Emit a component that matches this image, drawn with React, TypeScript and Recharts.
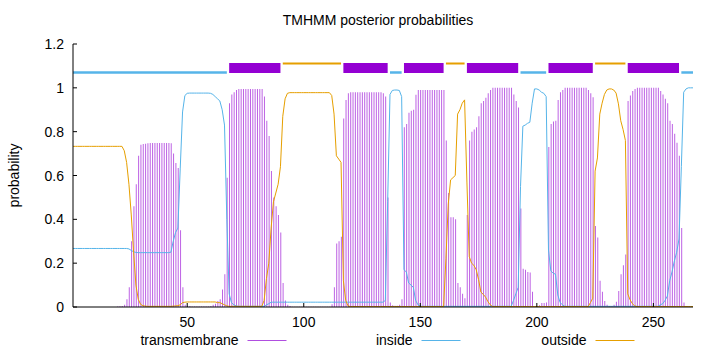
import React from "react";
import {
  ComposedChart,
  Bar,
  Line,
  XAxis,
  YAxis,
  ReferenceArea,
  ReferenceLine,
  Legend,
  Label,
} from "recharts";

const W = 720;
const H = 352;
const PLOT = { left: 73, right: 693, top: 44, bottom: 307 };
const FONT = "'Liberation Sans', Arial, sans-serif";

// posterior probability per residue (1..267)
const TM = [
  0, 0, 0, 0, 0, 0, 0, 0, 0, 0,
  0, 0, 0, 0, 0, 0, 0, 0, 0, 0.002,
  0.003, 0.005, 0.01, 0.035, 0.09, 0.3, 0.46, 0.56, 0.69, 0.74,
  0.744, 0.745, 0.747, 0.748, 0.748, 0.748, 0.748, 0.748, 0.748, 0.748,
  0.748, 0.748, 0.747, 0.7, 0.657, 0.634, 0.35, 0.09, 0.01, 0.005,
  0.005, 0.002, 0.002, 0.002, 0.002, 0.002, 0.002, 0.002, 0.002, 0.005,
  0.01, 0.015, 0.027, 0.035, 0.08, 0.15, 0.59, 0.93, 0.97, 0.98,
  0.99, 0.995, 0.995, 0.995, 0.995, 0.995, 0.995, 0.995, 0.995, 0.995,
  0.995, 0.995, 0.96, 0.85, 0.78, 0.62, 0.5, 0.46, 0.42, 0.34,
  0.11, 0.03, 0.01, 0.005, 0.001, 0.001, 0.001, 0.001, 0.001, 0.001,
  0.001, 0.001, 0.001, 0.001, 0.001, 0.001, 0.001, 0.001, 0.001, 0.001,
  0.001, 0.012, 0.09, 0.29, 0.3, 0.32, 0.86, 0.945, 0.975, 0.98,
  0.98, 0.98, 0.98, 0.98, 0.98, 0.98, 0.98, 0.98, 0.98, 0.98,
  0.98, 0.98, 0.98, 0.975, 0.96, 0.5, 0.02, 0.008, 0.006, 0.006,
  0.01, 0.035, 0.82, 0.835, 0.886, 0.896, 0.9, 0.968, 0.99, 0.99,
  0.99, 0.99, 0.99, 0.99, 0.99, 0.99, 0.99, 0.99, 0.99, 0.99,
  0.76, 0.52, 0.41, 0.41, 0.4, 0.11, 0.09, 0.06, 0.04, 0.42,
  0.76, 0.8, 0.81, 0.82, 0.87, 0.93, 0.94, 0.955, 0.975, 0.99,
  1, 1, 1, 1, 1, 1, 1, 1, 1, 0.97,
  0.94, 0.91, 0.45, 0.175, 0.17, 0.16, 0.157, 0.07, 0.005, 0.005,
  0.008, 0.018, 0.018, 0.02, 0.73, 0.835, 0.846, 0.85, 0.945, 0.98,
  0.99, 1, 1, 1, 1, 1, 1, 1, 1, 1,
  1, 0.99, 0.975, 0.957, 0.37, 0.317, 0.12, 0.07, 0.027, 0.01,
  0.005, 0.005, 0.01, 0.024, 0.073, 0.15, 0.19, 0.24, 0.94, 0.965,
  0.985, 0.995, 1, 1, 1, 1, 1, 1, 1, 1,
  1, 1, 0.985, 0.97, 0.95, 0.93, 0.85, 0.835, 0.79, 0.75,
  0.69, 0.36, 0.02, 0.005, 0.003, 0.002, 0,
];

const INSIDE = [
  0.267, 0.267, 0.267, 0.267, 0.267, 0.267, 0.267, 0.267, 0.267, 0.267,
  0.267, 0.267, 0.267, 0.267, 0.267, 0.267, 0.267, 0.267, 0.267, 0.267,
  0.267, 0.267, 0.267, 0.267, 0.265, 0.258, 0.252, 0.249, 0.248, 0.248,
  0.248, 0.248, 0.248, 0.248, 0.248, 0.248, 0.248, 0.248, 0.248, 0.248,
  0.248, 0.248, 0.25, 0.3, 0.34, 0.36, 0.63, 0.89, 0.965, 0.975,
  0.976, 0.976, 0.976, 0.976, 0.976, 0.976, 0.976, 0.976, 0.976, 0.975,
  0.97, 0.96, 0.95, 0.94, 0.9, 0.83, 0.4, 0.06, 0.02, 0.01,
  0.005, 0.003, 0.003, 0.003, 0.003, 0.003, 0.003, 0.003, 0.003, 0.003,
  0.003, 0.003, 0.003, 0.01, 0.015, 0.022, 0.022, 0.022, 0.022, 0.022,
  0.022, 0.022, 0.022, 0.022, 0.022, 0.022, 0.022, 0.022, 0.022, 0.022,
  0.022, 0.022, 0.022, 0.022, 0.022, 0.022, 0.022, 0.022, 0.022, 0.022,
  0.022, 0.022, 0.022, 0.022, 0.022, 0.022, 0.022, 0.022, 0.022, 0.022,
  0.022, 0.022, 0.022, 0.022, 0.022, 0.022, 0.022, 0.022, 0.022, 0.022,
  0.022, 0.022, 0.022, 0.022, 0.03, 0.48, 0.97, 0.988, 0.99, 0.99,
  0.988, 0.96, 0.17, 0.16, 0.11, 0.1, 0.09, 0.03, 0.01, 0.003,
  0.003, 0.003, 0.003, 0.003, 0.003, 0.003, 0.003, 0.003, 0.003, 0.003,
  0.003, 0.003, 0.003, 0.003, 0.003, 0.003, 0.003, 0.003, 0.003, 0.003,
  0.003, 0.003, 0.003, 0.003, 0.003, 0.003, 0.003, 0.003, 0.003, 0.003,
  0.003, 0.003, 0.003, 0.003, 0.003, 0.003, 0.003, 0.003, 0.003, 0.03,
  0.06, 0.09, 0.55, 0.825, 0.83, 0.838, 0.843, 0.93, 0.995, 0.995,
  0.99, 0.98, 0.975, 0.96, 0.26, 0.165, 0.154, 0.15, 0.055, 0.02,
  0.01, 0.003, 0.003, 0.003, 0.003, 0.003, 0.003, 0.003, 0.003, 0.003,
  0.003, 0.003, 0.003, 0.003, 0.003, 0.003, 0.003, 0.003, 0.003, 0.003,
  0.003, 0.003, 0.003, 0.003, 0.003, 0.003, 0.003, 0.003, 0.003, 0.003,
  0.003, 0.003, 0.003, 0.003, 0.003, 0.003, 0.003, 0.003, 0.003, 0.003,
  0.003, 0.003, 0.01, 0.015, 0.03, 0.05, 0.12, 0.16, 0.21, 0.25,
  0.31, 0.64, 0.98, 0.995, 1, 1, 1,
];

const OUTSIDE = [
  0.733, 0.733, 0.733, 0.733, 0.733, 0.733, 0.733, 0.733, 0.733, 0.733,
  0.733, 0.733, 0.733, 0.733, 0.733, 0.733, 0.733, 0.733, 0.733, 0.733,
  0.733, 0.733, 0.713, 0.66, 0.56, 0.42, 0.25, 0.1, 0.035, 0.012,
  0.006, 0.004, 0.003, 0.003, 0.003, 0.003, 0.003, 0.003, 0.003, 0.003,
  0.003, 0.003, 0.003, 0.004, 0.005, 0.006, 0.01, 0.02, 0.022, 0.023,
  0.023, 0.023, 0.023, 0.023, 0.023, 0.023, 0.023, 0.023, 0.023, 0.023,
  0.023, 0.023, 0.02, 0.02, 0.015, 0.01, 0.005, 0.003, 0.003, 0.003,
  0.003, 0.003, 0.003, 0.003, 0.003, 0.003, 0.003, 0.003, 0.003, 0.003,
  0.003, 0.003, 0.03, 0.13, 0.2, 0.36, 0.48, 0.52, 0.56, 0.64,
  0.87, 0.95, 0.975, 0.978, 0.978, 0.978, 0.978, 0.978, 0.978, 0.978,
  0.978, 0.978, 0.978, 0.978, 0.978, 0.978, 0.978, 0.978, 0.978, 0.978,
  0.978, 0.965, 0.88, 0.69, 0.675, 0.66, 0.12, 0.03, 0.005, 0.002,
  0.002, 0.002, 0.002, 0.002, 0.002, 0.002, 0.002, 0.002, 0.002, 0.002,
  0.002, 0.002, 0.002, 0.002, 0.002, 0.002, 0.002, 0.002, 0.002, 0.002,
  0.002, 0.002, 0.002, 0.002, 0.002, 0.002, 0.002, 0.002, 0.002, 0.002,
  0.002, 0.002, 0.002, 0.002, 0.002, 0.002, 0.002, 0.002, 0.002, 0.002,
  0.22, 0.47, 0.58, 0.59, 0.6, 0.88, 0.9, 0.93, 0.945, 0.57,
  0.23, 0.2, 0.19, 0.17, 0.125, 0.068, 0.058, 0.045, 0.025, 0.01,
  0.002, 0.002, 0.002, 0.002, 0.002, 0.002, 0.002, 0.002, 0.002, 0.002,
  0.002, 0.002, 0.002, 0.002, 0.002, 0.002, 0.002, 0.002, 0.002, 0.002,
  0.002, 0.002, 0.002, 0.002, 0.002, 0.002, 0.002, 0.002, 0.002, 0.002,
  0.002, 0.002, 0.002, 0.002, 0.002, 0.002, 0.002, 0.002, 0.002, 0.002,
  0.002, 0.002, 0.02, 0.04, 0.62, 0.68, 0.88, 0.93, 0.97, 0.99,
  0.995, 0.995, 0.99, 0.976, 0.927, 0.85, 0.81, 0.76, 0.06, 0.033,
  0.015, 0.005, 0.002, 0.002, 0.002, 0.002, 0.002, 0.002, 0.002, 0.002,
  0.002, 0.002, 0.002, 0.002, 0.002, 0.002, 0.002, 0.002, 0.002, 0.002,
  0.002, 0.002, 0.002, 0.002, 0.002, 0.002, 0.002,
];

// predicted topology (drawn above the curves)
const TOPOLOGY = [
  { type: "inside", start: 1, end: 67 },
  { type: "tm", start: 68, end: 90 },
  { type: "outside", start: 91, end: 116 },
  { type: "tm", start: 117, end: 136 },
  { type: "inside", start: 137, end: 142 },
  { type: "tm", start: 143, end: 160 },
  { type: "outside", start: 161, end: 169 },
  { type: "tm", start: 170, end: 192 },
  { type: "inside", start: 193, end: 204 },
  { type: "tm", start: 205, end: 224 },
  { type: "outside", start: 225, end: 238 },
  { type: "tm", start: 239, end: 261 },
  { type: "inside", start: 262, end: 267 },
];

const X_TICKS = [50, 100, 150, 200, 250];
const Y_TICKS = [0, 0.2, 0.4, 0.6, 0.8, 1, 1.2];

const SERIES = [
  { key: "tm", name: "transmembrane", color: "#b04ee0" },
  { key: "inside", name: "inside", color: "#56b4e9" },
  { key: "outside", name: "outside", color: "#e69f00" },
];
const COLOR: Record<string, string> = {
  tm: "#9400d3",
  inside: "#56b4e9",
  outside: "#e69f00",
};

const data = TM.map((tm, i) => ({
  pos: i + 1,
  tm,
  inside: INSIDE[i],
  outside: OUTSIDE[i],
}));

const txt = { fontFamily: FONT, fontSize: 14, fill: "#000" };
const midY = (PLOT.top + PLOT.bottom) / 2;

const BottomTick = ({ x, payload }: any) => (
  <g>
    <line x1={x} x2={x} y1={PLOT.bottom} y2={PLOT.bottom - 4} stroke="#000" />
    <text {...txt} x={x} y={PLOT.bottom + 20} textAnchor="middle">
      {payload.value}
    </text>
  </g>
);

const TopTick = ({ x }: any) => (
  <line x1={x} x2={x} y1={PLOT.top} y2={PLOT.top + 4} stroke="#000" />
);

const LeftTick = ({ y, payload }: any) => (
  <g>
    <line x1={PLOT.left} x2={PLOT.left + 4} y1={y} y2={y} stroke="#000" />
    <text {...txt} x={PLOT.left - 9} y={y + 5} textAnchor="end">
      {String(payload.value)}
    </text>
  </g>
);

const RightTick = ({ y }: any) => (
  <line x1={PLOT.right - 4} x2={PLOT.right} y1={y} y2={y} stroke="#000" />
);

const KeyContent = () => (
  <svg width={W} height={24} style={{ display: "block" }}>
    {SERIES.map((s, i) => {
      const end = 238.5 + i * 174;
      return (
        <g key={s.key}>
          <text {...txt} x={end} y={18} textAnchor="end">
            {s.name}
          </text>
          <line x1={end + 9} x2={end + 48} y1={13.5} y2={13.5} stroke={s.color} />
        </g>
      );
    })}
  </svg>
);

export default function App() {
  return (
    <>
      <style>{"body{margin:0}"}</style>
      <ComposedChart
        width={W}
        height={H}
        data={data}
        margin={{ top: PLOT.top, right: W - PLOT.right, bottom: 0, left: 0 }}
      >
        <XAxis
          dataKey="pos"
          type="number"
          domain={[1, 267]}
          ticks={X_TICKS}
          height={H - PLOT.bottom}
          tickSize={0}
          tickLine={false}
          axisLine={{ stroke: "#000" }}
          tick={<BottomTick />}
          allowDataOverflow
        />
        <XAxis
          xAxisId="top"
          orientation="top"
          type="number"
          domain={[1, 267]}
          ticks={X_TICKS}
          height={0}
          tickSize={0}
          tickLine={false}
          axisLine={{ stroke: "#000" }}
          tick={<TopTick />}
          allowDataOverflow
        />
        <YAxis
          type="number"
          domain={[0, 1.2]}
          ticks={Y_TICKS}
          width={PLOT.left}
          tickSize={0}
          tickLine={false}
          axisLine={{ stroke: "#000" }}
          tick={<LeftTick />}
          allowDataOverflow
        >
          <Label
            content={() => (
              <g>
                <text {...txt} x={378} y={25} textAnchor="middle">
                  TMHMM posterior probabilities
                </text>
                <text
                  {...txt}
                  x={19}
                  y={midY}
                  textAnchor="middle"
                  transform={`rotate(-90 19 ${midY})`}
                >
                  probability
                </text>
              </g>
            )}
          />
        </YAxis>
        <YAxis
          yAxisId="right"
          orientation="right"
          type="number"
          domain={[0, 1.2]}
          ticks={Y_TICKS}
          width={0}
          tickSize={0}
          tickLine={false}
          axisLine={{ stroke: "#000" }}
          tick={<RightTick />}
          allowDataOverflow
        />

        <Bar
          dataKey="tm"
          name="transmembrane"
          fill={COLOR.tm}
          fillOpacity={0.62}
          barSize={1}
          isAnimationActive={false}
        />
        <Line
          dataKey="inside"
          name="inside"
          type="linear"
          stroke={COLOR.inside}
          strokeWidth={1}
          dot={false}
          activeDot={false}
          isAnimationActive={false}
        />
        <Line
          dataKey="outside"
          name="outside"
          type="linear"
          stroke={COLOR.outside}
          strokeWidth={1}
          dot={false}
          activeDot={false}
          isAnimationActive={false}
        />

        {TOPOLOGY.map((r) =>
          r.type === "tm" ? (
            <ReferenceArea
              key={`${r.type}-${r.start}`}
              x1={r.start}
              x2={r.end}
              y1={1.068}
              y2={1.113}
              fill={COLOR.tm}
              fillOpacity={1}
              stroke="none"
            />
          ) : (
            <ReferenceLine
              key={`${r.type}-${r.start}`}
              segment={[
                { x: r.start, y: r.type === "inside" ? 1.07 : 1.111 },
                { x: r.end, y: r.type === "inside" ? 1.07 : 1.111 },
              ]}
              stroke={COLOR[r.type]}
              strokeWidth={r.type === "inside" ? 2.5 : 2}
            />
          )
        )}

        <Legend
          verticalAlign="middle"
          align="center"
          layout="horizontal"
          wrapperStyle={{ top: 327, left: 0, width: W, height: 24 }}
          content={<KeyContent />}
        />
      </ComposedChart>
    </>
  );
}
